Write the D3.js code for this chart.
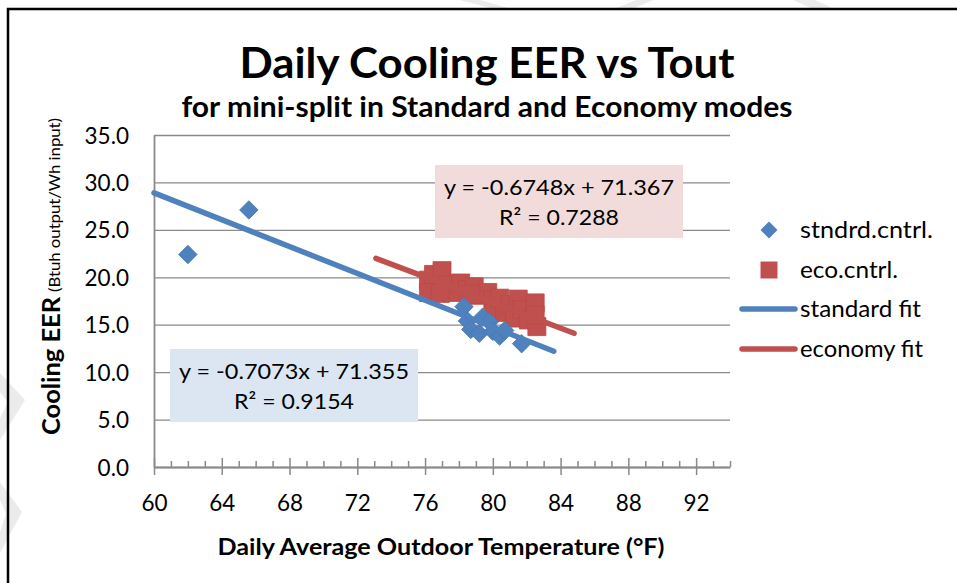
<!DOCTYPE html>
<html>
<head>
<meta charset="utf-8">
<script src="https://cdn.jsdelivr.net/npm/d3@7"></script>
<style>
  html, body { margin: 0; padding: 0; background: #fff; }
  svg { display: block; font-family: Lato, "Open Sans", sans-serif; }
</style>
</head>
<body>
<svg id="chart" width="957" height="583"></svg>
<script>
// values
const stdTemp = [62.0, 65.6, 78.3, 78.5, 78.7, 79.2, 79.4, 79.8, 80.0, 80.4, 80.7, 81.7];
const stdEER  = [22.4, 27.1, 16.9, 15.4, 14.5, 14.1, 15.8, 15.3, 14.3, 13.8, 14.4, 13.0];

const ecoTemp = [76.2, 76.2, 76.5, 77.0, 77.3, 77.6, 78.1, 78.5, 78.9, 79.2, 79.7, 80.0,
                 80.1, 80.4, 80.7, 81.0, 81.5, 81.3, 81.7, 82.1, 82.5, 82.6, 82.5, 78.7, 76.9];
const ecoEER  = [19.7, 18.4, 20.3, 20.7, 19.2, 18.4, 19.4, 18.7, 19.0, 18.1, 18.4, 17.6,
                 16.6, 17.8, 16.3, 17.1, 17.7, 15.7, 16.6, 15.5, 17.3, 14.8, 16.0, 18.2, 18.3];

// trendline end points (as drawn on the chart)
const stdFitTemp = [60, 83.6];
const stdFitEER  = [28.9, 12.2];
const ecoFitTemp = [73.1, 84.8];
const ecoFitEER  = [22.0, 14.1];

const stdFitLabel = ["y = -0.7073x + 71.355", "R\u00b2 = 0.9154"];
const ecoFitLabel = ["y = -0.6748x + 71.367", "R\u00b2 = 0.7288"];
const legendNames = ["stndrd.cntrl.", "eco.cntrl.", "standard fit", "economy fit"];

const xTicks = [60, 64, 68, 72, 76, 80, 84, 88, 92];
const xMinorTicks = [61, 62, 63, 65, 66, 67, 69, 70, 71, 73, 74, 75, 77, 78, 79,
                     81, 82, 83, 85, 86, 87, 89, 90, 91, 93, 94];
const yTicks = [0, 5, 10, 15, 20, 25, 30, 35];

const blue = "#4f81bd", red = "#c0504d", grid = "#8a8a8a";
const svg = d3.select("#chart");

const plot = { left: 154, right: 730, top: 135, bottom: 467 };
const x = d3.scaleLinear().domain([60, 94]).range([plot.left, plot.right]);
const y = d3.scaleLinear().domain([0, 35]).range([plot.bottom, plot.top]);

// faint page watermark behind the chart frame
const marks = [
  [[460, 0], [480, 0], [512, 9], [494, 9]],
  [[636, 0], [654, 0], [632, 9], [614, 9]],
  [[793, 0], [815, 0], [835, 9], [813, 9]],
  [[0, 373], [25, 400], [0, 440], [0, 418], [8, 402], [0, 392]],
  [[0, 482], [22, 512], [0, 553], [0, 532], [6, 514], [0, 500]]
];
svg.append("rect").attr("x", 8).attr("y", 9).attr("width", 1000).attr("height", 1000).attr("fill", "#fff");
svg.append("g").selectAll("path").data(marks).join("path")
  .attr("d", d => "M" + d.join("L") + "Z").attr("fill", "#ebebeb");
svg.append("rect").attr("x", 8).attr("y", 9).attr("width", 1000).attr("height", 1000)
  .attr("fill", "none").attr("stroke", "#000").attr("stroke-width", 2.5);

// titles
svg.append("text").attr("x", 487).attr("y", 78).attr("text-anchor", "middle")
  .attr("font-size", 42).attr("font-weight", "bold")
  .attr("textLength", 495).attr("lengthAdjust", "spacingAndGlyphs")
  .text("Daily Cooling EER vs Tout");
svg.append("text").attr("x", 487).attr("y", 117).attr("text-anchor", "middle")
  .attr("font-size", 28).attr("font-weight", "bold")
  .attr("textLength", 611).attr("lengthAdjust", "spacingAndGlyphs")
  .text("for mini-split in Standard and Economy modes");

// y gridlines + labels
const yAxis = svg.append("g").attr("transform", `translate(${plot.left},0)`)
  .call(d3.axisLeft(y).tickValues(yTicks).tickFormat(d3.format(".1f"))
    .tickSize(-(plot.right - plot.left)).tickPadding(25));
yAxis.attr("font-family", null).attr("font-size", 22.5);
yAxis.select(".domain").remove();
yAxis.selectAll(".tick line").attr("stroke", grid).attr("stroke-width", 1.3);
yAxis.selectAll(".tick text").attr("fill", "#000").attr("dy", "0.36em");

// y axis line
svg.append("g").attr("transform", `translate(${plot.left},0)`)
  .call(d3.axisLeft(y).tickValues([]).tickSizeOuter(0))
  .select(".domain").attr("stroke", grid).attr("stroke-width", 1.8);

// x axis: minor ticks (inside), major ticks (cross)
const xMinor = svg.append("g").attr("transform", `translate(0,${plot.bottom})`)
  .call(d3.axisBottom(x).tickValues(xMinorTicks).tickFormat("").tickSizeInner(-6).tickSizeOuter(0));
xMinor.select(".domain").remove();
xMinor.selectAll(".tick line").attr("stroke", grid).attr("stroke-width", 1.5);

const xAxis = svg.append("g").attr("transform", `translate(0,${plot.bottom})`)
  .call(d3.axisBottom(x).tickValues(xTicks).tickFormat(d3.format("d"))
    .tickSizeInner(8).tickSizeOuter(0).tickPadding(20));
xAxis.attr("font-family", null).attr("font-size", 22.5);
xAxis.select(".domain").attr("stroke", grid).attr("stroke-width", 1.8);
xAxis.selectAll(".tick line").attr("stroke", grid).attr("stroke-width", 1.5).attr("y1", -9);
xAxis.selectAll(".tick text").attr("fill", "#000");

// axis titles
svg.append("text").attr("x", 441).attr("y", 555).attr("text-anchor", "middle")
  .attr("font-size", 22.5).attr("font-weight", "bold")
  .attr("textLength", 447).attr("lengthAdjust", "spacingAndGlyphs")
  .text("Daily Average Outdoor Temperature (\u00b0F)");
svg.append("text").attr("transform", "translate(60,435) rotate(-90)")
  .attr("font-size", 25).attr("font-weight", "bold")
  .attr("textLength", 138).attr("lengthAdjust", "spacingAndGlyphs")
  .text("Cooling EER");
svg.append("text").attr("transform", "translate(60,292) rotate(-90)")
  .attr("font-size", 15)
  .attr("textLength", 174).attr("lengthAdjust", "spacingAndGlyphs")
  .text("(Btuh output/Wh input)");

// markers
const square = d3.symbol().type(d3.symbolSquare).size(324);
const diamond = d3.symbol().type(d3.symbolSquare).size(170);

svg.append("g").selectAll("path").data(d3.zip(ecoTemp, ecoEER)).join("path")
  .attr("d", square)
  .attr("transform", d => `translate(${x(d[0])},${y(d[1])})`)
  .attr("fill", red).attr("stroke", "#b94a47").attr("stroke-width", 0.8);

svg.append("g").selectAll("path").data(d3.zip(stdTemp, stdEER)).join("path")
  .attr("d", diamond)
  .attr("transform", d => `translate(${x(d[0])},${y(d[1])}) rotate(45)`)
  .attr("fill", blue).attr("stroke", "#4677b0").attr("stroke-width", 0.8);

// trendlines
const line = d3.line().x(d => x(d[0])).y(d => y(d[1]));
svg.append("path").datum(d3.zip(stdFitTemp, stdFitEER)).attr("d", line)
  .attr("fill", "none").attr("stroke", blue).attr("stroke-width", 5.5).attr("stroke-linecap", "round");
svg.append("path").datum(d3.zip(ecoFitTemp, ecoFitEER)).attr("d", line)
  .attr("fill", "none").attr("stroke", red).attr("stroke-width", 5.5).attr("stroke-linecap", "round");

// equation boxes
function eqBox(bx, by, fill, lines) {
  svg.append("rect").attr("x", bx).attr("y", by).attr("width", 248).attr("height", 73).attr("fill", fill);
  const cx = bx + 124;
  svg.append("text").attr("x", cx).attr("y", by + 29.5).attr("text-anchor", "middle")
    .attr("font-size", 22).attr("textLength", 230).attr("lengthAdjust", "spacingAndGlyphs").text(lines[0]);
  svg.append("text").attr("x", cx).attr("y", by + 60).attr("text-anchor", "middle")
    .attr("font-size", 22).attr("textLength", 120).attr("lengthAdjust", "spacingAndGlyphs").text(lines[1]);
}
eqBox(435, 165, "#f2dcdb", ecoFitLabel);
eqBox(170, 349, "#dce6f2", stdFitLabel);

// legend
const legendY = [230, 270, 309, 349];
const legendW = [133, 98, 121, 123];
const lg = svg.append("g");
lg.append("path").attr("d", d3.symbol().type(d3.symbolSquare).size(144))
  .attr("transform", `translate(769,${legendY[0]}) rotate(45)`).attr("fill", blue);
lg.append("path").attr("d", d3.symbol().type(d3.symbolSquare).size(289))
  .attr("transform", `translate(769,${legendY[1]})`).attr("fill", red);
lg.append("line").attr("x1", 742).attr("x2", 795).attr("y1", legendY[2]).attr("y2", legendY[2])
  .attr("stroke", blue).attr("stroke-width", 5.5).attr("stroke-linecap", "round");
lg.append("line").attr("x1", 742).attr("x2", 795).attr("y1", legendY[3]).attr("y2", legendY[3])
  .attr("stroke", red).attr("stroke-width", 5.5).attr("stroke-linecap", "round");
lg.selectAll("text").data(legendNames).join("text")
  .attr("x", 800).attr("y", (d, i) => legendY[i] + 8)
  .attr("font-size", 23)
  .attr("textLength", (d, i) => legendW[i]).attr("lengthAdjust", "spacingAndGlyphs")
  .text(d => d);
</script>
</body>
</html>
